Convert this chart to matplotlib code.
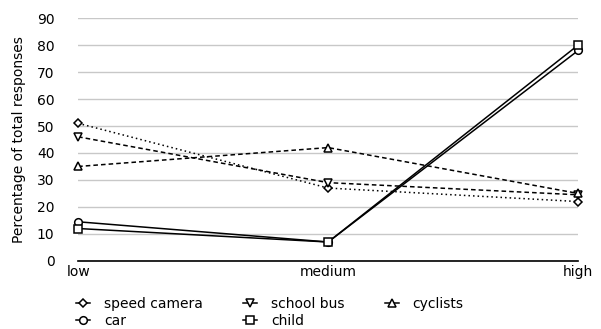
import matplotlib.pyplot as plt

plt.rcParams['font.family'] = ['DejaVu Sans']

levels = ['low', 'medium', 'high']
speed_camera = [51, 27, 22]
school_bus = [46, 29, 24.5]
cyclists = [35, 42, 25]
car = [14.5, 7, 78]
child = [12, 7, 80]

fig = plt.figure(figsize=(6.01, 3.29), dpi=100)
ax = fig.add_axes([0.13, 0.207, 0.832, 0.738])

x = range(len(levels))
style = dict(color='black', linewidth=1.1, markerfacecolor='white',
             markeredgewidth=1.1, clip_on=False)
ax.plot(x, speed_camera, linestyle=(0, (1, 2)), marker='D', markersize=4.5,
        label='speed camera', **style)
ax.plot(x, school_bus, linestyle=(0, (3, 2)), marker='v', markersize=5.5,
        label='school bus', **style)
ax.plot(x, cyclists, linestyle=(0, (3, 2)), marker='^', markersize=5.5,
        label='cyclists', **style)
ax.plot(x, car, linestyle='-', marker='o', markersize=5.5, label='car', **style)
ax.plot(x, child, linestyle='-', marker='s', markersize=5.5, label='child', **style)

ax.set_xlim(0, 2)
ax.set_ylim(0, 90)
ax.set_yticks(range(0, 91, 10))
ax.set_xticks(list(x))
ax.set_xticklabels(levels)
ax.yaxis.grid(True, color='#c8c8c8', linewidth=1)
ax.set_axisbelow(True)
for side in ['top', 'right', 'left']:
    ax.spines[side].set_visible(False)
ax.spines['bottom'].set_linewidth(1.2)
ax.tick_params(axis='y', length=0, pad=17, labelsize=10)
ax.tick_params(axis='x', length=0, pad=3, labelsize=10)
ax.set_ylabel('Percentage of total responses', fontsize=10, labelpad=8)

handles, labels = ax.get_legend_handles_labels()
order = [0, 3, 1, 4, 2]
leg = fig.legend([handles[i] for i in order], [labels[i] for i in order],
                 ncol=3, loc='upper left', bbox_to_anchor=(0.127, 0.097),
                 bbox_transform=fig.transFigure, borderaxespad=0, borderpad=0,
                 frameon=False, fontsize=10, handlelength=1.0,
                 columnspacing=2.9, handletextpad=1.0, labelspacing=0.22)
for h in leg.legend_handles:
    h.set_linestyle('-')

fig.savefig('out.png', dpi=100)
